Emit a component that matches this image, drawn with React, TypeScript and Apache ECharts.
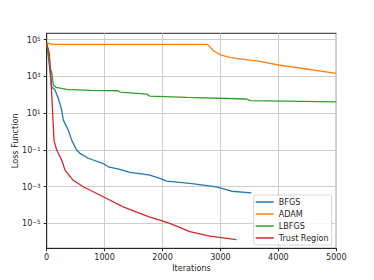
import React, { useEffect, useRef } from "react";
import * as echarts from "echarts";

// Iterations and loss values
const bfgsIter = [0, 10, 86, 143, 200, 259, 286, 345, 372, 431, 517, 574, 717, 976, 1062, 1264, 1436, 1666, 1781, 1953, 2069, 2471, 2931, 3190, 3534];
const bfgsLoss = [5.1e4, 4.2e4, 275, 182, 65, 14.8, 4.3, 1.8, 1.2, 0.34, 0.098, 0.065, 0.035, 0.018, 0.012, 0.0087, 0.0059, 0.0048, 0.0042, 0.0028, 0.002, 0.0015, 0.00098, 0.00056, 0.00046];

const adamIter = [0, 100, 2776, 2880, 3000, 3172, 3683, 4000, 5000];
const adamLoss = [6.9e4, 5.6e4, 5.6e4, 2.5e4, 1.5e4, 1.05e4, 6600, 4200, 1480];

const lbfgsIter = [0, 69, 86, 114, 160, 345, 750, 1234, 1264, 1724, 1781, 2419, 3453, 3511, 5000];
const lbfgsLoss = [6.3e4, 2240, 1820, 340, 257, 200, 174, 166, 141, 110, 85, 72, 59, 48, 41];

const trustIter = [0, 45, 74, 103, 126, 172, 259, 316, 459, 631, 976, 1321, 1609, 1781, 1953, 2126, 2471, 2816, 3276];
const trustLoss = [6.3e4, 1.8e4, 630, 9.8, 0.34, 0.098, 0.028, 0.0079, 0.0022, 0.00098, 2.8e-4, 7.9e-5, 3.5e-5, 2.2e-5, 1.5e-5, 1.0e-5, 3.5e-6, 2.0e-6, 1.3e-6];

const seriesNames = ["BFGS", "ADAM", "LBFGS", "Trust Region"];
const seriesColors = ["#1f77b4", "#ff7f0e", "#2ca02c", "#d62728"];

const yTickExps = [-5, -3, -1, 1, 3, 5];

const FONT = "DejaVu Sans";

function pairs(xs: number[], ys: number[]) {
  return xs.map((x, i) => [x, Math.log10(ys[i])]);
}

export default function App() {
  const ref = useRef<HTMLDivElement>(null);
  useEffect(() => {
    document.body.style.margin = "0";
    const chart = echarts.init(ref.current!, null, { renderer: "svg" });
    const all = [
      pairs(bfgsIter, bfgsLoss),
      pairs(adamIter, adamLoss),
      pairs(lbfgsIter, lbfgsLoss),
      pairs(trustIter, trustLoss),
    ];
    const gridColor = "#cdcdcd";
    const axisColor = "#262626";
    chart.setOption({
      animation: false,
      backgroundColor: "#ffffff",
      grid: {
        left: 46.7,
        right: 37.7,
        top: 33.3,
        bottom: 31.7,
        containLabel: false,
        outerBoundsMode: "none",
        show: true,
        borderColor: axisColor,
        borderWidth: 1,
        backgroundColor: "transparent",
      },
      xAxis: {
        type: "value",
        min: 0,
        max: 5000,
        interval: 1000,
        name: "Iterations",
        nameLocation: "middle",
        nameGap: 16,
        nameMoveOverlap: false,
        nameTextStyle: { fontFamily: FONT, fontSize: 8.1, color: axisColor },
        axisLine: { show: true, onZero: false, lineStyle: { color: axisColor, width: 1 } },
        axisTick: { show: true, length: 3, lineStyle: { color: axisColor } },
        axisLabel: {
          fontFamily: FONT,
          fontSize: 8.1,
          color: axisColor,
          margin: 5,
          formatter: (v: number) => String(Math.round(v)),
        },
        splitLine: { show: true, lineStyle: { color: gridColor, width: 1 } },
      },
      yAxis: {
        type: "value",
        min: -6.36,
        max: 5.35,
        name: "Loss Function",
        nameLocation: "middle",
        nameGap: 28,
        nameMoveOverlap: false,
        nameTextStyle: { fontFamily: FONT, fontSize: 8.1, color: axisColor },
        axisLine: { show: true, onZero: false, lineStyle: { color: axisColor, width: 1 } },
        axisTick: { show: true, length: 3, lineStyle: { color: axisColor }, customValues: yTickExps },
        axisLabel: {
          customValues: yTickExps,
          margin: 6,
          formatter: (v: number) => {
            const e = Math.round(v);
            const s = e < 0 ? "\u2212" + Math.abs(e) : String(e);
            return "{b|10}{s|" + s + "}";
          },
          rich: {
            b: { fontFamily: FONT, fontSize: 8.1, color: axisColor, verticalAlign: "bottom" },
            s: { fontFamily: FONT, fontSize: 5.7, color: axisColor, verticalAlign: "top" },
          },
        },
        splitLine: { show: true, lineStyle: { color: gridColor, width: 1 }, customValues: yTickExps },
      },
      legend: {
        orient: "vertical",
        left: 253.7,
        top: 195,
        data: seriesNames,
        icon: "rect",
        itemWidth: 18,
        itemHeight: 1.5,
        itemGap: 2,
        padding: [2, 3, 2, 2],
        backgroundColor: "rgba(255,255,255,0.8)",
        borderColor: "#d6d6d6",
        borderWidth: 1,
        borderRadius: 2,
        textStyle: { fontFamily: FONT, fontSize: 8.1, color: axisColor, lineHeight: 10 },
      },
      series: all.map((d, i) => ({
        name: seriesNames[i],
        type: "line",
        data: d,
        showSymbol: false,
        symbol: "none",
        color: seriesColors[i],
        lineStyle: { color: seriesColors[i], width: 1.3 },
        itemStyle: { color: seriesColors[i] },
        z: 2 + i,
      })),
    });
    return () => chart.dispose();
  }, []);
  return (
    <div
      ref={ref}
      style={{ width: 374, height: 280, position: "absolute", left: 0, top: 0 }}
    />
  );
}
